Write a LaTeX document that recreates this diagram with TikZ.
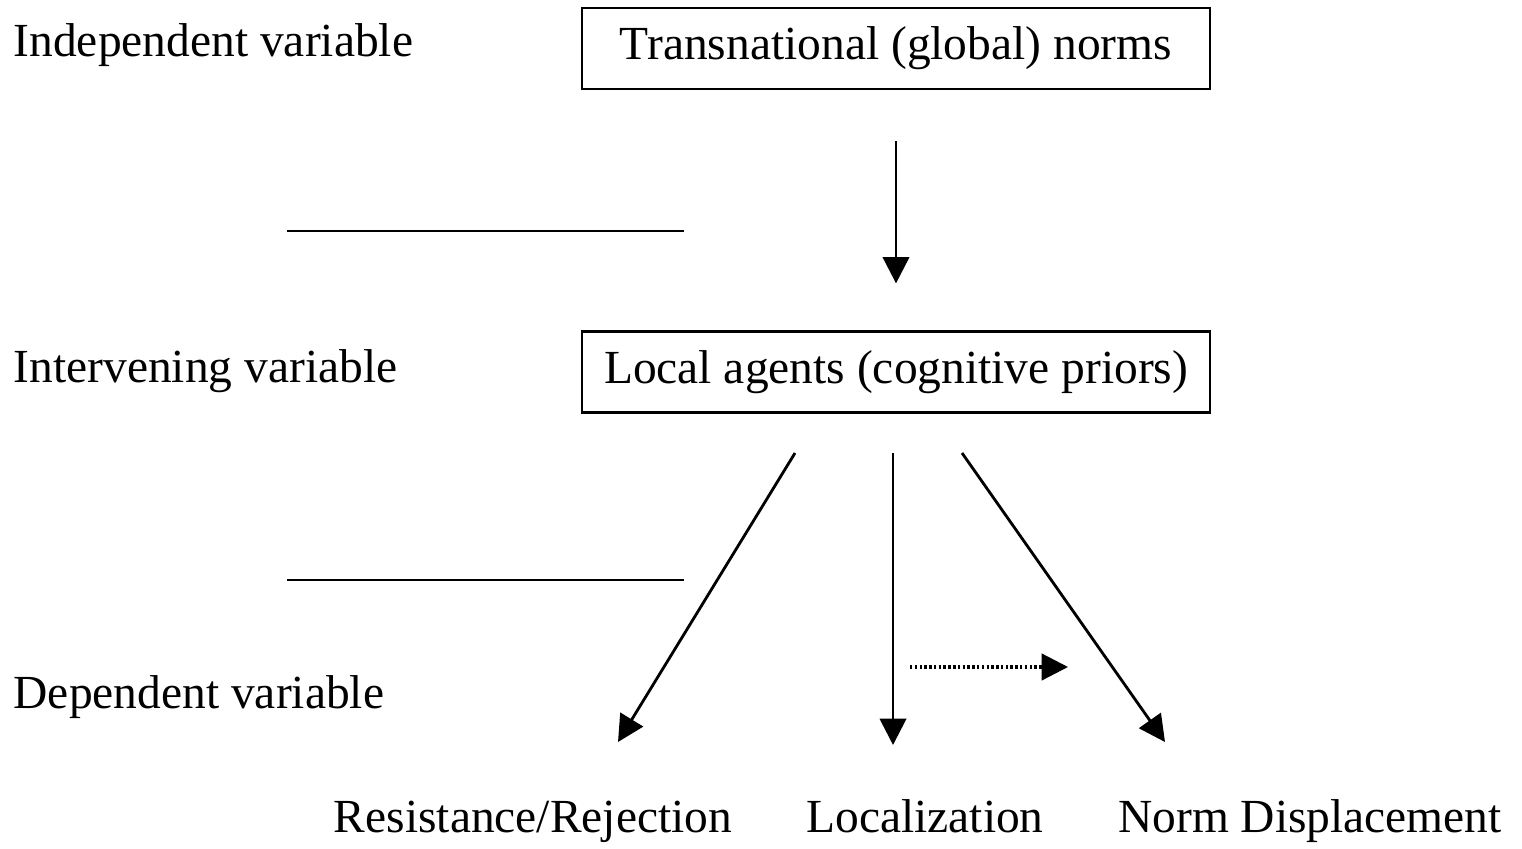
\documentclass[tikz,border=0pt]{standalone}
\usepackage{fontspec}
\setmainfont{Liberation Serif}
\usetikzlibrary{arrows.meta}

\begin{document}
\begin{tikzpicture}[x=0.01cm, y=-0.01cm,
% arrow heads for all connectors
-{Triangle[length=7.5pt,width=7.5pt]},
every node/.style={font=\fontsize{13.5}{16}\selectfont},
varbox/.style={draw, semithick, minimum width=6.28cm, minimum height=0.81cm},
varlabel/.style={anchor=base west, inner sep=0pt},
outcome/.style={anchor=base, inner sep=0pt}]
\useasboundingbox (0,0) rectangle (1522,849);
% variable names
\node[varlabel] (indep) at (13,57) {Independent variable};
\node[varlabel] (interv) at (13,382) {Intervening variable};
\node[varlabel] (dep) at (13,708) {Dependent variable};
% boxes
\node[varbox] (norms) at (896,48.5) {Transnational (global) norms};
\node[varbox] (agents) at (896,372) {Local agents (cognitive priors)};
% outcomes
\node[outcome] (resist) at (533,832) {Resistance/Rejection};
\node[outcome] (local) at (925,832) {Localization};
\node[outcome] (displace) at (1310,832) {Norm Displacement};
% separators
\draw[-, semithick] (287,231) -- (684,231);
\draw[-, semithick] (287,580) -- (684,580);
% straight arrows
\draw[thick, shorten <=0.51cm, shorten >=0.47cm] (norms.south) -- (agents.north);
\coordinate (s1) at (795,453);
\coordinate (s2) at (893,453);
\coordinate (s3) at (962,453);
\coordinate (e1) at (618,742);
\coordinate (e2) at (893,745);
\coordinate (e3) at (1165,742);
\draw[thick] (s1) -- (e1);
\draw[thick] (s2) -- (e2);
\draw[thick] (s3) -- (e3);
% dotted arrow
\coordinate (d1) at (910,667);
\coordinate (d2) at (1068,667);
\draw[line width=0.9pt, dash pattern=on 0.7pt off 0.66pt] (d1) -- (d2);
\end{tikzpicture}
\end{document}
